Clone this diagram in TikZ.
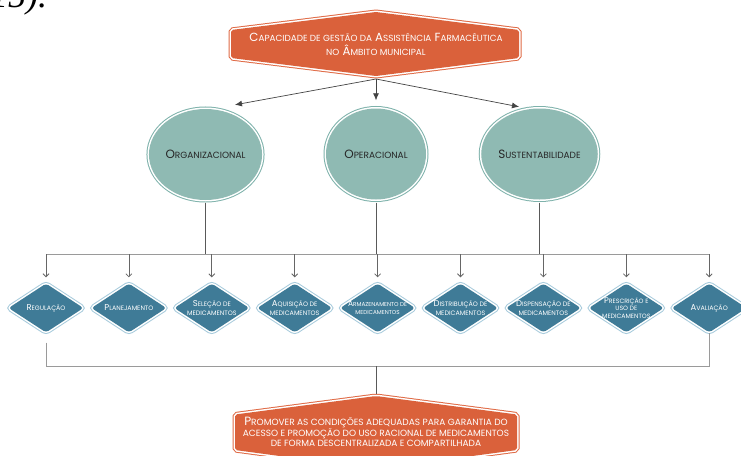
\documentclass[tikz,border=0pt]{standalone}
\usepackage{fontspec}
\setmainfont{Poppins}
\newfontfamily\serifx{Liberation Serif}
\usetikzlibrary{shapes.geometric,arrows.meta,calc}
\makeatletter
\newcommand\sm[1]{{\fontsize{\dimexpr\f@size pt*3/4\relax}{0pt}\selectfont #1}}
\makeatother
\definecolor{orfill}{HTML}{DA613B}
\definecolor{orring}{HTML}{E06A45}
\definecolor{tlfill}{HTML}{8FBAB3}
\definecolor{tlring}{HTML}{7EB2AB}
\definecolor{blfill}{HTML}{3F7B97}
\definecolor{blring}{HTML}{A7CBDC}
\definecolor{busgray}{HTML}{9A9A9A}
\definecolor{arrgray}{HTML}{444444}
\tikzset{
  ringed/.style={preaction={draw=#1, line width=5pt}, preaction={draw=white, line width=3pt}},
  hexbox/.style={ringed=orring, fill=orfill, rounded corners=2pt},
  circnode/.style={ellipse, ringed=tlring, fill=tlfill, minimum width=100pt, minimum height=91pt, inner sep=0pt,
     font=\fontsize{12}{13}\selectfont, text=black!85},
  dianode/.style={diamond, rounded corners=3pt, ringed=blring, fill=blfill, minimum width=75pt, minimum height=49pt,
     inner sep=-10pt, shape aspect=1.53, align=center, text=white, font=\fontsize{8.5}{9}\selectfont},
  boxtext/.style={align=center, text=white, inner sep=0pt},
  arr/.style={draw=arrgray, line width=0.7pt, -{Latex[length=7pt,width=6pt]}},
  vline/.style={draw=black!65, line width=0.7pt},
  bus/.style={draw=busgray, line width=1pt},
  drop/.style={draw=black!60, line width=0.8pt, -{Straight Barb[length=3pt,width=6pt]}},
}
\begin{document}
\begin{tikzpicture}[x=1pt,y=-1pt]
\clip (0,0) rectangle (741,455);
\fill[white] (0,0) rectangle (741,455);
% clipped text at top left
\node[anchor=base west, inner sep=0pt, font=\serifx\itshape\fontsize{36}{36}\selectfont] (pg) at (-10,8) {15).};
% top box
\path[hexbox] (231,30) -- (376,12) -- (519,30) -- (519,58) -- (376,76) -- (231,58) -- cycle;
\node[boxtext, font=\fontsize{11.8}{14}\selectfont] (top) at (376,44)
  {C\sm{APACIDADE DE GESTÃO DA} A\sm{SSISTÊNCIA} F\sm{ARMACÊUTICA}\\\sm{NO} Â\sm{MBITO MUNICIPAL}};
\coordinate (topb) at (376,79);
% circles
\node[circnode] (c1) at (205.5,154.5) {O\sm{RGANIZACIONAL}};
\node[circnode] (c2) at (376,154) {O\sm{PERACIONAL}};
\node[circnode] (c3) at (539.5,154) {S\sm{USTENTABILIDADE}};
\draw[arr] (topb) -- ([shift={(29.5,-4)}]c1.north);
\draw[arr] (topb) -- ([shift={(0,-8)}]c2.north);
\draw[arr] (topb) -- ([shift={(-20.5,-1.5)}]c3.north);
% diamonds
\node[dianode] (d1) at (46,308) {R\sm{EGULAÇÃO}};
\node[dianode] (d2) at (128.9,308) {P\sm{LANEJAMENTO}};
\node[dianode] (d3) at (211.8,308) {S\sm{ELEÇÃO DE}\\\sm{MEDICAMENTOS}};
\node[dianode] (d4) at (294.7,308) {A\sm{QUISIÇÃO DE}\\\sm{MEDICAMENTOS}};
\node[dianode, font=\fontsize{7.6}{8.5}\selectfont] (d5) at (377.6,308) {A\sm{RMAZENAMENTO DE}\\\sm{MEDICAMENTOS}};
\node[dianode] (d6) at (460.5,308) {D\sm{ISTRIBUIÇÃO DE}\\\sm{MEDICAMENTOS}};
\node[dianode] (d7) at (543.4,308) {D\sm{ISPENSAÇÃO DE}\\\sm{MEDICAMENTOS}};
\node[dianode, font=\fontsize{8.3}{7.2}\selectfont] (d8) at (626.3,308) {P\sm{RESCRIÇÃO E}\\\sm{USO DE}\\\sm{MEDICAMENTOS}};
\node[dianode] (d9) at (709.2,308) {A\sm{VALIAÇÃO}};
% upper bus
\coordinate (busL) at (46,254);
\draw[bus] (d1.north |- busL) -- (d9.north |- busL);
\foreach \c in {c1,c2,c3} \draw[vline, shorten <=3pt] (\c.south) -- (\c.south |- busL);
\foreach \i in {1,...,9} \draw[drop, shorten >=6pt] (d\i.north |- busL) -- (d\i.north);
% lower bus
\coordinate (bbL) at (46,366);
\draw[bus, shorten <=10pt] (d1.south) -- (d1.south |- bbL) -- (d9.south |- bbL) -- (d9.south);
\draw[bus] (d9.south |- bbL) -- ([yshift=-10pt]d9.south);
% bottom box
\path[hexbox] (235,414.5) -- (376,396) -- (517,414.5) -- (517,450) -- (376,469) -- (235,450) -- cycle;
\coordinate (bbM) at (376,366);
\coordinate (bota) at (376,394);
\draw[vline] (bbM) -- (bota);
\node[boxtext, font=\fontsize{12}{9.7}\selectfont] (bot) at (376,432)
  {P\sm{ROMOVER AS CONDIÇÕES ADEQUADAS PARA GARANTIA DO}\\\sm{ACESSO E PROMOÇÃO DO USO RACIONAL DE MEDICAMENTOS}\\\sm{DE FORMA DESCENTRALIZADA E COMPARTILHADA}};
\end{tikzpicture}
\end{document}
